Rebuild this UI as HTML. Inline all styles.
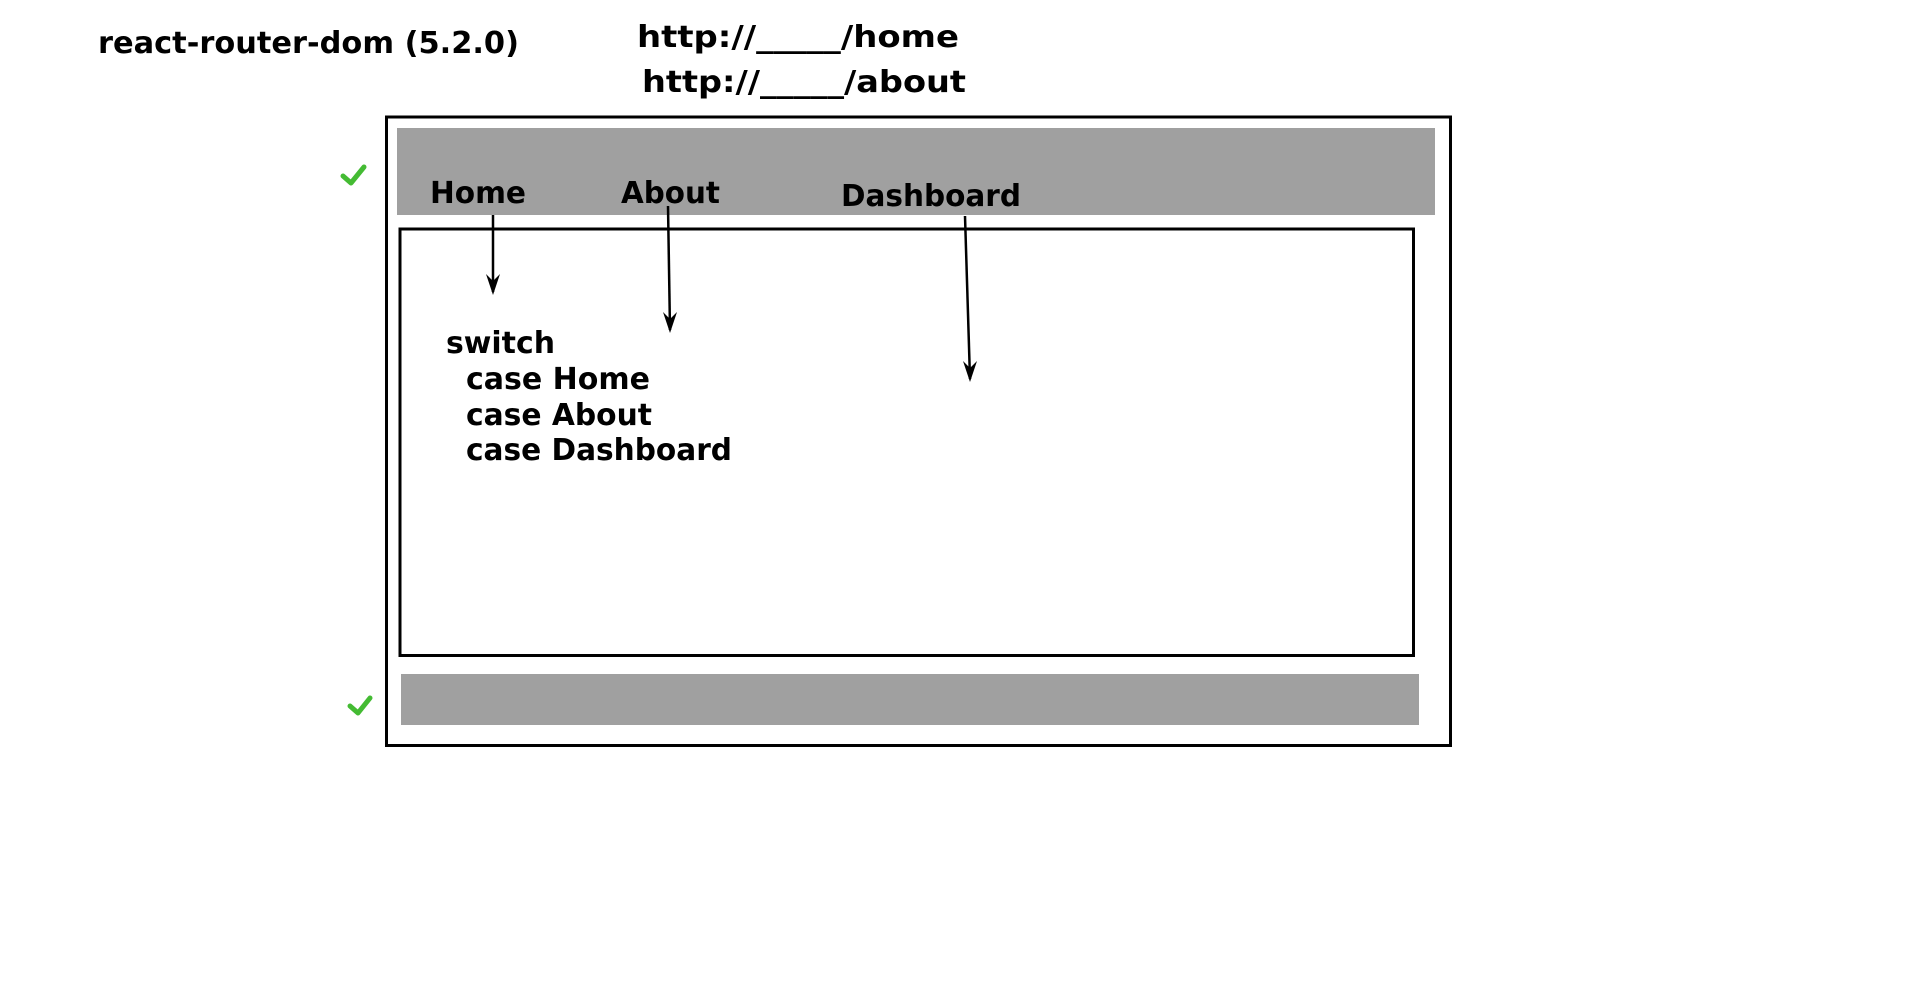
<!DOCTYPE html>
<html><head><meta charset="utf-8"><style>
html,body{margin:0;padding:0;background:#fff;width:1920px;height:991px;overflow:hidden}
svg text{font-family:"DejaVu Sans","Liberation Sans",sans-serif;font-weight:bold;fill:#000}
</style></head><body>
<svg width="1920" height="991" viewBox="0 0 1920 991" xmlns="http://www.w3.org/2000/svg">
<text x="98" y="53" font-size="30" textLength="421" lengthAdjust="spacingAndGlyphs">react-router-dom (5.2.0)</text>
<text x="637" y="47" font-size="30" textLength="322" lengthAdjust="spacingAndGlyphs">http://_____/home</text>
<text x="642" y="92" font-size="30" textLength="324" lengthAdjust="spacingAndGlyphs">http://_____/about</text>
<rect x="386.5" y="117" width="1064" height="628.5" fill="none" stroke="#000" stroke-width="3"/>
<rect x="397" y="128" width="1038" height="87" fill="#a0a0a0"/>
<rect x="400" y="229" width="1013.5" height="426.5" fill="none" stroke="#000" stroke-width="3"/>
<rect x="401" y="674" width="1018" height="51" fill="#a0a0a0"/>
<polyline points="343,176 351,183 364,167" fill="none" stroke="#44bb33" stroke-width="5" stroke-linecap="round" stroke-linejoin="round"/>
<polyline points="350,706 358,713 370,698" fill="none" stroke="#44bb33" stroke-width="5" stroke-linecap="round" stroke-linejoin="round"/>
<text x="430" y="203" font-size="30" textLength="96" lengthAdjust="spacingAndGlyphs">Home</text>
<text x="621" y="203" font-size="30" textLength="99" lengthAdjust="spacingAndGlyphs">About</text>
<text x="841" y="206" font-size="30" textLength="180" lengthAdjust="spacingAndGlyphs">Dashboard</text>
<g stroke="#000" stroke-width="2.5" fill="none">
<line x1="493" y1="215" x2="493" y2="292"/>
<line x1="668" y1="206" x2="670" y2="330"/>
<line x1="965" y1="216" x2="970" y2="379"/>
</g>
<g fill="#000">
<path d="M493,295 L486,274 L493,281 L500,274 Z"/>
<path d="M670,333 L663,312 L670,319 L677,312 Z"/>
<path d="M970,382 L963,361 L970,368 L977,361 Z"/>
</g>
<text x="446" y="353" font-size="30" textLength="109" lengthAdjust="spacingAndGlyphs">switch</text>
<text x="466" y="389" font-size="30" textLength="184" lengthAdjust="spacingAndGlyphs">case Home</text>
<text x="466" y="425" font-size="30" textLength="186" lengthAdjust="spacingAndGlyphs">case About</text>
<text x="466" y="460" font-size="30" textLength="266" lengthAdjust="spacingAndGlyphs">case Dashboard</text>
</svg>
</body></html>
